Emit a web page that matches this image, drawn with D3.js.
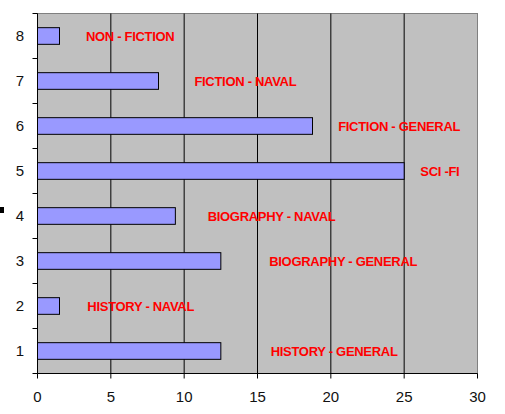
<!DOCTYPE html>
<html>
<head>
<meta charset="utf-8">
<title>Books by category</title>
<script src="https://cdn.jsdelivr.net/npm/d3@7"></script>
<style>
	body { margin: 0; background: #fff; }
	svg { display: block; }
	.tick-label { font-family: Arial, "Liberation Sans", sans-serif; font-size: 15px; fill: #111; }
	.bar-label { font-family: Arial, "Liberation Sans", sans-serif; font-size: 13px; font-weight: bold; fill: #ff0000; letter-spacing: -0.3px; }
</style>
</head>
<body>
<svg width="505" height="414"></svg>
<script>
	// categories, top to bottom
	var categories = [8, 7, 6, 5, 4, 3, 2, 1];
	var values = [1.5, 8.25, 18.75, 25, 9.4, 12.5, 1.5, 12.5];
	var labels = ['NON - FICTION', 'FICTION - NAVAL', 'FICTION - GENERAL', 'SCI -FI',
		'BIOGRAPHY - NAVAL', 'BIOGRAPHY - GENERAL', 'HISTORY - NAVAL', 'HISTORY - GENERAL'];
	// where each text box starts, in axis units
	var labelStart = [3.3, 10.7, 20.5, 26.1, 11.6, 15.8, 3.4, 15.9];
	var xTicks = [0, 5, 10, 15, 20, 25, 30];

	var svg = d3.select('svg');
	var plotLeft = 37.5, plotRight = 477.5, plotTop = 13.5, plotBottom = 373.5;

	var x = d3.scaleLinear().domain([0, 30]).range([plotLeft, plotRight]);
	var y = d3.scaleBand().domain(categories).range([plotTop, plotBottom])
		.paddingInner(0.63).paddingOuter(0.315);
	var step = y.step();

	// plot area
	svg.append('rect')
		.attr('x', plotLeft).attr('y', plotTop)
		.attr('width', plotRight - plotLeft).attr('height', plotBottom - plotTop)
		.attr('fill', '#c0c0c0')
		.attr('stroke', '#808080');

	// vertical gridlines
	svg.selectAll('.grid')
		.data(xTicks.slice(1, -1))
		.enter().append('line')
		.attr('x1', d => x(d)).attr('x2', d => x(d))
		.attr('y1', plotTop).attr('y2', plotBottom)
		.attr('stroke', '#000');

	// bars
	svg.selectAll('.bar')
		.data(categories)
		.enter().append('rect')
		.attr('x', x(0))
		.attr('y', d => y(d))
		.attr('width', (d, i) => x(values[i]) - x(0))
		.attr('height', y.bandwidth())
		.attr('fill', '#9999ff')
		.attr('stroke', '#000');

	// bar labels
	svg.selectAll('.bar-label')
		.data(categories)
		.enter().append('text')
		.attr('class', 'bar-label')
		.attr('x', (d, i) => x(labelStart[i]))
		.attr('y', d => y(d) + y.bandwidth() / 2)
		.attr('dy', '0.35em')
		.text((d, i) => labels[i]);

	// axis lines
	svg.append('line')
		.attr('x1', plotLeft).attr('x2', plotLeft).attr('y1', plotTop).attr('y2', plotBottom)
		.attr('stroke', '#000');
	svg.append('line')
		.attr('x1', plotLeft).attr('x2', plotRight).attr('y1', plotBottom).attr('y2', plotBottom)
		.attr('stroke', '#000');

	// y ticks between categories
	svg.selectAll('.ytick')
		.data(d3.range(categories.length + 1))
		.enter().append('line')
		.attr('x1', plotLeft - 5).attr('x2', plotLeft)
		.attr('y1', i => plotTop + i * step).attr('y2', i => plotTop + i * step)
		.attr('stroke', '#000');

	svg.selectAll('.ylabel')
		.data(categories)
		.enter().append('text')
		.attr('class', 'tick-label')
		.attr('x', 20)
		.attr('y', d => y(d) + y.bandwidth() / 2)
		.attr('dy', '0.35em')
		.attr('text-anchor', 'middle')
		.text(d => d);

	// x ticks
	svg.selectAll('.xtick')
		.data(xTicks)
		.enter().append('line')
		.attr('x1', d => x(d)).attr('x2', d => x(d))
		.attr('y1', plotBottom).attr('y2', plotBottom + 5)
		.attr('stroke', '#000');

	svg.selectAll('.xlabel')
		.data(xTicks)
		.enter().append('text')
		.attr('class', 'tick-label')
		.attr('x', d => x(d))
		.attr('y', 397)
		.attr('dy', '0.35em')
		.attr('text-anchor', 'middle')
		.text(d => d);

	// small stray mark left of the axis
	svg.append('rect')
		.attr('x', 0).attr('y', 207).attr('width', 4).attr('height', 6)
		.attr('fill', '#000');
</script>
</body>
</html>
